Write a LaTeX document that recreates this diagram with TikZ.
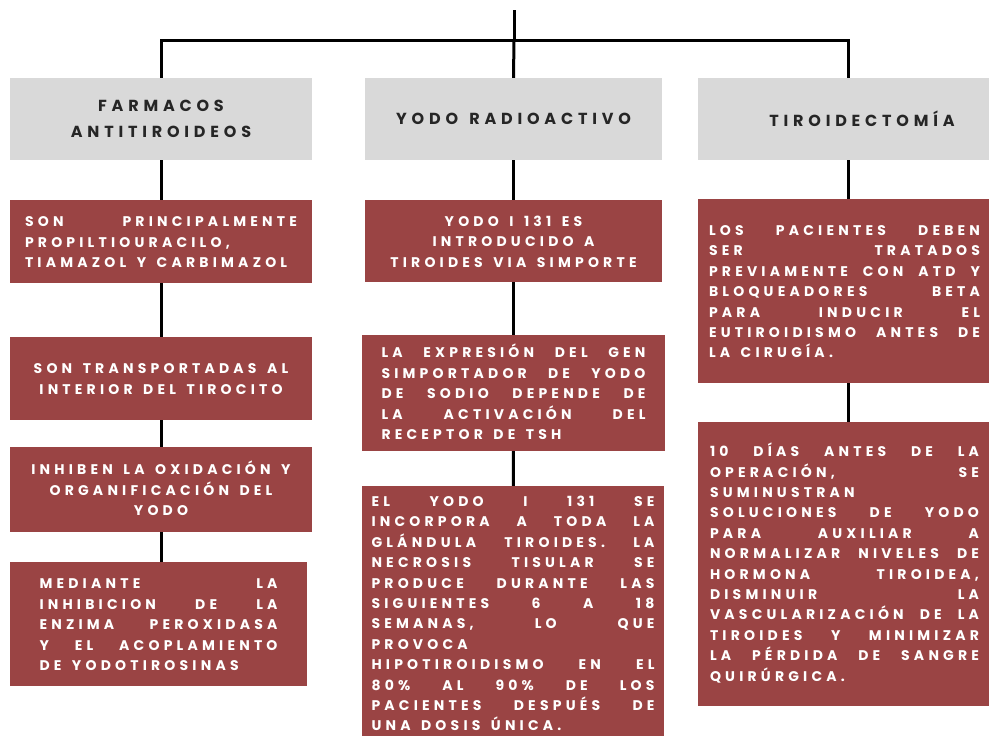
\documentclass[tikz,border=0pt]{standalone}
\usepackage{fontspec}
\newfontfamily\boxfont[LetterSpace=30]{Poppins}
\newfontfamily\headfont[LetterSpace=30]{Poppins}
\definecolor{boxred}{HTML}{9A4444}
\definecolor{headgray}{HTML}{D9D9D9}
\newcommand{\wordgap}{\spaceskip=.7em\relax\xspaceskip=.7em\relax}
\newcommand{\jl}[1]{\par\noindent\hbox to\hsize{\spaceskip=.5em plus 1fil\relax\xspaceskip=\spaceskip #1}}
\newcommand{\rl}[1]{\par\noindent\hbox to\hsize{\spaceskip=.75em\relax\xspaceskip=\spaceskip #1\hfil}}
\newcommand{\cl}[1]{\par\noindent\hbox to\hsize{\spaceskip=.75em\relax\xspaceskip=\spaceskip \hfil#1\hfil}}
\newcommand{\boxend}{\par\vskip9pt\nointerlineskip\hbox{}}

\begin{document}
\begin{tikzpicture}[x=1pt, y=-1pt,
	head/.style={fill=headgray, minimum height=82pt, inner sep=0pt, align=center, text=black!85, font=\headfont\bfseries\fontsize{16}{26}\selectfont\wordgap},
	info/.style={fill=boxred, inner sep=0pt, text=white, font=\boxfont\bfseries\fontsize{14}{20.4}\selectfont, execute at end node=\boxend},
	link/.style={line width=3pt}]
				\clip (0,0) rectangle (989,736);
				\node[head, minimum width=302pt] (hF)at(161, 119) {FARMACOS\\ANTITIROIDEOS};
				\node[head, minimum width=297pt] (hY)at(513.5, 119) {YODO RADIOACTIVO};
				\node[head, minimum width=328pt] (hT)at(862, 119) {TIROIDECTOMÍA};
				\node[info, minimum width=302pt, minimum height=83pt, text width=272pt] (F1)at(161, 241.5) {\jl{SON PRINCIPALMENTE}\rl{PROPILTIOURACILO,}\rl{TIAMAZOL Y CARBIMAZOL}};
				\node[info, minimum width=302pt, minimum height=83pt, text width=272pt] (F2)at(161, 378.5) {\cl{SON TRANSPORTADAS AL}\cl{INTERIOR DEL TIROCITO}};
				\node[info, minimum width=302pt, minimum height=85pt, text width=272pt] (F3)at(161, 489.5) {\cl{INHIBEN LA OXIDACIÓN Y}\cl{ORGANIFICACIÓN DEL}\cl{YODO}};
				\node[info, minimum width=297pt, minimum height=124pt, text width=238pt] (F4)at(158.5, 624) {\jl{MEDIANTE LA}\jl{INHIBICION DE LA}\jl{ENZIMA PEROXIDASA}\jl{Y EL ACOPLAMIENTO}\rl{DE YODOTIROSINAS}};
				\node[info, minimum width=297pt, minimum height=82pt, text width=262pt] (Y1)at(513.5, 241) {\cl{YODO I 131 ES}\cl{INTRODUCIDO A}\cl{TIROIDES VIA SIMPORTE}};
				\node[info, minimum width=303pt, minimum height=116pt, text width=264pt] (Y2)at(513.5, 393) {\jl{LA EXPRESIÓN DEL GEN}\jl{SIMPORTADOR DE YODO}\jl{DE SODIO DEPENDE DE}\jl{LA ACTIVACIÓN DEL}\rl{RECEPTOR DE TSH}};
				\node[info, minimum width=302pt, minimum height=250pt, text width=283pt] (Y3)at(513, 613) {\jl{EL YODO I 131 SE}\jl{INCORPORA A TODA LA}\jl{GLÁNDULA TIROIDES. LA}\jl{NECROSIS TISULAR SE}\jl{PRODUCE DURANTE LAS}\jl{SIGUIENTES 6 A 18}\jl{SEMANAS, LO QUE}\rl{PROVOCA}\jl{HIPOTIROIDISMO EN EL}\jl{80\% AL 90\% DE LOS}\jl{PACIENTES DESPUÉS DE}\rl{UNA DOSIS ÚNICA.}};
				\node[info, minimum width=293pt, minimum height=184pt, text width=271pt] (T1)at(844.5, 291) {\jl{LOS PACIENTES DEBEN}\jl{SER TRATADOS}\jl{PREVIAMENTE CON ATD Y}\jl{BLOQUEADORES BETA}\jl{PARA INDUCIR EL}\jl{EUTIROIDISMO ANTES DE}\rl{LA CIRUGÍA.}};
				\node[info, minimum width=293pt, minimum height=284pt, text width=269pt] (T2)at(844.5, 564) {\jl{10 DÍAS ANTES DE LA}\jl{OPERACIÓN, SE}\rl{SUMINUSTRAN}\jl{SOLUCIONES DE YODO}\jl{PARA AUXILIAR A}\jl{NORMALIZAR NIVELES DE}\jl{HORMONA TIROIDEA,}\jl{DISMINUIR LA}\jl{VASCULARIZACIÓN DE LA}\jl{TIROIDES Y MINIMIZAR}\jl{LA PÉRDIDA DE SANGRE}\rl{QUIRÚRGICA.}};
				\coordinate (top)at(514, 10);
				\coordinate (hub)at(514, 40);
				\draw[link] (top) -- (hub);
				\draw[link] (hub) -| (hF.north);
				\draw[link] (hub) -| ([xshift=-14pt]hT.north);
				\draw[link] (hub) -- (hY.north);
				\draw[link] (hF) -- (F1);
				\draw[link] (F1) -- (F2);
				\draw[link] (F2) -- (F3);
				\draw[link] (F3.south) -- (F4.north -| F3.south);
				\draw[link] (hY) -- (Y1);
				\draw[link] (Y1) -- (Y2);
				\draw[link] (Y2) -- (Y3);
				\draw[link] ([xshift=-14pt]hT.south) -- (T1.north -| 848, 0);
				\draw[link] (T1.south -| 848, 0) -- (T2.north -| 848, 0);
			\end{tikzpicture}
\end{document}
